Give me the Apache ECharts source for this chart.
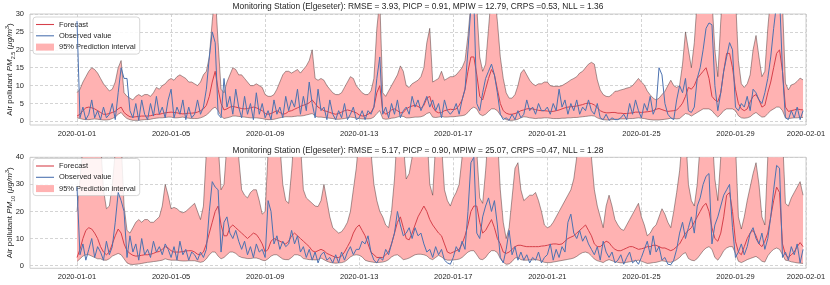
<!DOCTYPE html>
<html><head><meta charset="utf-8">
<script src="https://cdn.jsdelivr.net/npm/echarts@6/dist/echarts.min.js"></script>
<style>html,body{margin:0;padding:0;background:#fff}#c{width:830px;height:285px}</style>
</head><body><div id="c"></div>
<script>
// ---- axis ticks / labels ----
const xTickHours = [0,96,192,288,384,480,576,672,744];
const xTickLabels = ['2020-01-01','2020-01-05','2020-01-09','2020-01-13','2020-01-17','2020-01-21','2020-01-25','2020-01-29','2020-02-01'];
const stepHours = 3; // one value every 3 hours, starting 2020-01-01 00:00
const pm25Ticks = [0,5,10,15,20,25,30];
const pm10Ticks = [0,10,20,30,40];
const titles = [
 'Monitoring Station (Elgeseter): RMSE = 3.93, PICP = 0.91, MPIW = 12.79, CRPS =0.53, NLL = 1.36',
 'Monitoring Station (Elgeseter): RMSE = 5.17, PICP = 0.90, MPIW = 25.07, CRPS =0.47, NLL = 1.28'
];

// ---- PM2.5 (top panel) ----
const pm25Upper = [
 8,9,11,12.5,14,15,14.5,13.5,
 12,10.5,9.5,8.5,9,11,15,17,
 8,7,6.5,6,7,7.5,7,7.5,
 7.5,7,8,9.5,9,10,10.5,11.5,
 12,11.5,12.5,13,12.5,12,11,11,
 10.5,10,11,13,14,18,28,36,
 22,9,8,11,13,15,14.5,13,
 13,12,11,10,10,10.5,10,9.5,
 7.5,7,7,7.5,9,11,13,14,
 14,13.5,14,14.5,13.5,14.5,15.5,17,
 20,12,11.5,12,11.5,10,9,8,
 7.5,7.5,8,9.5,11,12.5,12,10,
 9,8,7.5,7.5,8.5,12,26,34,
 8,7,8.5,10,11.5,13,15.5,14,
 10,9.5,10.5,11,11.5,12.5,15,22,
 26,11,11.5,12,14,11.5,12,12.5,
 12.5,13,14,15,17,24,33,38,
 32,18,14,16,26,36,36,28,
 18,12,8,6.5,6.5,7.5,10,13.5,
 14.5,13,11.5,10.5,10,10.5,10.5,11,
 11,10,9.8,9.8,9.8,10,10.5,11,
 11.6,12,12.5,13.5,14,15,16,16.5,
 16,11.6,8.8,7.5,7,6.9,7.5,8.4,
 8.5,8.8,9,9.3,9.5,10,11,12,
 11,10.2,8.5,7.4,6.5,6,6.5,7.5,
 8.4,10,11.5,10,9.5,10,16,25,
 20,15,22,34,40,40,40,40,
 34,20,12.5,28,40,40,40,40,
 35,17,10.5,9.5,10.5,13,20,24,
 18,12.5,14,26,35,40,40,40,
 33,10.7,8.8,10.2,10.5,11.2,12.1,11.6
];
const pm25Lower = [
 1,0.8,0.6,0.5,0.5,0.6,0.7,0.6,
 0.5,0.4,0.4,0.5,0.8,1.2,2,2.5,
 1.5,0.8,0.5,0.3,0.3,0.3,0.4,0.5,
 0.5,0.6,0.8,0.9,1,1,1.1,1.2,
 1.2,1,1,1.1,1.2,1,0.9,0.8,
 0.8,0.8,1,1.3,1.8,2.5,3.5,4,
 3,1.5,0.8,1,1.2,1.5,1.5,1.4,
 1.3,1.2,1.1,1,1,1,0.9,0.8,
 0.6,0.5,0.5,0.6,0.8,1,1.2,1.3,
 1.3,1.3,1.4,1.5,1.5,1.6,1.8,2,
 2.2,1.5,1.2,1.2,1.1,1,0.9,0.8,
 0.6,0.6,0.7,0.8,1,1.2,1.1,0.9,
 0.8,0.7,0.7,0.7,0.8,1.2,2.2,3,
 0.8,0.6,0.7,0.9,1,1.2,1.5,1.4,
 1,1,1.1,1.2,1.2,1.3,1.6,2.2,
 2.5,1.2,1.1,1.2,1.4,1.2,1.2,1.3,
 1.3,1.4,1.5,1.6,1.8,2.5,3.5,4,
 3.5,2,1.6,2,2.8,3.5,3.5,3,
 1.8,1,0.5,0.3,0.3,0.4,0.6,1,
 1.3,1.2,1,0.9,0.8,0.9,0.9,1,
 1,0.9,0.8,0.8,0.8,0.9,0.9,1,
 1,1.1,1.1,1.2,1.3,1.4,1.5,1.6,
 1.5,1,0.7,0.5,0.4,0.4,0.5,0.6,
 0.6,0.7,0.7,0.7,0.8,0.8,0.9,1,
 0.9,0.8,0.6,0.5,0.4,0.4,0.4,0.5,
 0.6,0.7,0.9,0.8,0.7,0.8,1.5,2.2,
 2,1.5,2,2.5,3,3.5,3.5,3.5,
 3,2,1.2,2,3,3.5,3.5,3.5,
 3,1.6,1,0.9,1,1.3,2,2.5,
 1.8,1.2,1.3,2.2,3,3.5,4,4,
 3,1,0.8,0.9,1,1,1.1,1.1
];
const pm25Forecast = [
 1.5,2,3,3.8,4,3.8,3.5,3,
 2.5,2,2,2.2,2.5,2.8,3.5,4,
 2.5,1.8,1.3,1.2,1.3,1.4,1.5,1.5,
 1.5,1.6,1.8,2,2,2.2,2.4,2.5,
 2.6,2.5,2.4,2.2,2.1,2.2,2.3,2.3,
 2.4,2.6,3,3.5,4.5,7,11,14,
 9,5,3.2,3.5,4,4.2,4,3.8,
 3.6,3.5,3.6,3.8,4,3.8,3.4,3,
 2.2,2,2.2,2.6,3,2.5,2,2.2,
 2.8,3,3.4,3.8,4.2,4.5,4.8,5.2,
 6,5,4,3.5,3,2.8,2.5,2.2,
 2,2.2,2.6,3,3.2,3,2.7,2.4,
 1.8,1.5,1.6,2,2.5,4,8,10,
 3,2,2.5,3.2,3.5,3,2.4,2.5,
 3.5,4,4.3,4.5,4.2,3.6,4.5,6.5,
 7,4,2.8,2.4,2.5,3,3.2,3.4,
 3.3,3.5,4.5,6,9,14,18,18,
 13,7,6,9,12,14.5,13,9,
 5,3,2.3,2,2,2.2,2.5,3,
 3.2,3.5,3.6,3.5,3.3,3.1,3,3,
 2.9,2.8,2.8,3,3.2,3.5,3.8,4,
 4.1,4.2,4.3,4.5,4.7,5,5.1,5,
 4.6,3.8,3,2.6,2.4,2.4,2.5,2.5,
 2.3,2.3,2.2,2.2,2.3,2.4,2.6,2.6,
 2.5,2.6,2.7,2.8,3,3.4,3.6,3.3,
 3,2.8,2.9,3,3.2,4,5.1,7,
 9.5,9,10,12,13,14,15,12,
 7,6,5.5,8,14,19,19,15,
 9,5,3.5,3,3.5,5.5,7,7.5,
 6,4,4.5,8,11,15,19,20,
 14,4,2.8,3,3.2,3.5,3.3,3.2
];
const pm25Observed = [
 28,1,4,0.5,2,6,1,3,
 0.5,4,1,2,5,0.5,8,15,
 12,12,3,1,5,0.3,6,2,
 0.5,5,1.5,7,2,4,1,6,
 9,1,4,2,6,0.5,4,1,
 2,6,2,4,9,18,25,22,
 2,1,12,4,7,2,9,4,
 1,7,2,5,0.5,8,2,5,
 1,3,0.5,6,2,4,1,7,
 3,6,4,9,2,7,3,11,
 5,1,9,3,4,0.5,6,2,
 0.5,3,1,5,0.5,2,4,0.5,
 1,3,0.5,3,2,4,12,18,
 2,4,1,5,2,6,1,3,
 4,2,7,4,6,3,5,7,
 4,6,3,5,1,6,3,2,
 3,5,2,6,9,20,32,34,
 5,3,8,12,14,16,13,8,
 2,0.5,1,0.3,2,0.5,3,1,
 2,6,3,4,2,5,3,3,
 4,2,5,3,9,4,6,2,
 5,3,6,2,4,3,6,3,
 2,5,1,0.5,2,0.3,1,0.5,
 0.5,1,2,0.5,5,2,6,3,
 1,5,3,7,2,4,15,13,
 5,2,1,0.5,6,10,8,12,
 3,2.5,4,12,15,20,26,27.5,
 27,10,3,8,14,18,22,20,
 4,3,5,4,7,3,9,8,
 6,5,8,12,18,26,33,35,
 14,1,0.5,3,1,4,0.5,3
];

// ---- PM10 (bottom panel) ----
const pm10Upper = [
 20,32,44,50,50,50,50,50,
 46,28,21,22,30,42,50,46,
 22,13,12,14,16,17,16,17,
 17,16,16,17,18,22,30,26,
 21,21.5,21,20,19.5,20,21,22,
 23,20,17,22,42,50,50,50,
 45,28,30,45,50,50,50,40,
 28,26,25,27,28,28,24,19,
 20,42,50,50,50,45,30,24,
 23,35,50,50,45,28,25,24,
 23,22,21.8,24,30,24,18,14,
 13,12,12.5,14,16,20,28,36,
 48,50,50,50,42,30,24,20,
 18,15,14,20,32,50,50,45,
 32,34,40,50,50,50,50,50,
 30,26,45,50,45,28,24,22,
 25,27,30,40,50,50,50,50,
 42,25,23,35,50,50,50,48,
 28,16,10,14,25,36,38,28,
 24,25,26,26,27,24,20,15,
 14,14.5,16,18,20,22,24,26,
 28,32,40,50,50,50,50,40,
 28,22,18,14,22,26,22,17,
 15,13.5,13,15,17,19,21,23,
 18,15,11,12,14,15,18,21,
 19,16,14,20,27,35,48,50,
 30,24,22,30,45,50,50,50,
 50,32,24,40,50,50,50,50,
 45,18,13.5,18,24,29,34,38,
 30,18,15,40,50,50,50,50,
 48,23,22,25,27,29,31,26
];
const pm10Lower = [
 1.5,2.5,3.5,4,4,3.5,3,2.5,
 2.5,2,2,2.5,3.5,4,4.5,4,
 2.5,1,0.5,0.4,0.5,0.6,0.8,1,
 1.2,1.3,1.5,1.6,1.8,2,2.5,2.2,
 2,2,2,1.8,1.7,1.7,1.8,1.8,
 1.8,1.5,1.2,1.5,2.5,4,5,5,
 3.5,2.5,3,4,5,5,4.5,3.5,
 3,2.8,2.6,2.6,2.8,2.8,2.5,2,
 1.8,2.5,3.5,4,4,3.2,2.4,2.2,
 2.2,3,4,4,3.6,2.6,2.4,2.2,
 2.2,2.1,2.2,2.8,2.2,1.6,1.2,1,
 0.9,1,1.1,1.4,2.2,3.2,3.8,4,
 3.8,3.2,2,1.6,1.4,1.2,1.1,1.2,
 1.3,1.6,2.2,3.2,3.8,4,3.2,2.2,
 2.4,2.8,3.4,4,4.2,4.2,4,3.6,
 2.6,2.2,3,3.8,3.2,2.4,2,2,
 2.1,2.2,2.4,3,4,5,5.5,5.5,
 4,2.4,2.2,3,4.5,5.5,5.5,4.8,
 2.6,1.2,0.5,0.6,1.5,2.8,3,2.2,
 2,2,2.1,2.1,2.2,2,1.6,1.2,
 1.1,1.1,1.3,1.5,1.7,1.9,2.1,2.3,
 2.5,2.8,3.4,4.2,4.8,5,4.6,3.6,
 2.4,1.8,1.5,1.1,1.8,2.2,1.8,1.4,
 1.2,1,1,1.2,1.4,1.6,1.8,2,
 1.6,1.2,0.8,0.9,1.1,1.2,1.5,1.8,
 1.6,1.3,1.2,1.6,2.2,3,4.2,4.8,
 2.6,2,1.8,2.6,4,5.5,6.5,7,
 6,3,2,3.5,5.5,6.5,7,7,
 4.5,1.6,1.1,1.6,2.2,2.6,3,3.4,
 2.6,1.6,1.3,3.6,5,6,6.5,6,
 4,2,1.8,1.4,1.2,1,0.9,0.8
];
const pm10Forecast = [
 3,6,10,13,14,13.5,12,10,
 7,5,4,5,8,11,13.5,12,
 8,5.5,4.5,3.8,3.5,3.6,3.8,4,
 4,4.2,4.5,5,5.2,6,7,6.5,
 5.5,5,5,5,5.2,5.4,5.5,5.5,
 5,4.2,4,5,8,12,16,20,
 22,15,11,11,14,15,14,13,
 12,11,10,11,12,11.5,10,8,
 5,6,9,10,9.5,9,8.5,8,
 9,11,12,11,10,9,8,7,
 5.5,5,5.5,6,5.5,4.5,4,3.5,
 3,3,3.5,5,7,9,12,14,
 15,13,11,8,5,4,3,3,
 3,4,5,8,12,16,18,14,
 10,9.5,12,15,18,20,22,20,
 17,15,13.5,12,11,8,5,4.5,
 5,5.5,6,8,11,15,20,22,
 22,16,12,13,15,17,14,10,
 8,5,4.5,5,6,7,7.5,7.5,
 7.2,7,7,7,7,7,7.2,7.3,
 7.5,7.8,8,8,7.8,8,9,10,
 10.5,11,12,13,14,15,13,11,
 8,7,7,8,9,8.5,7,6,
 5.5,5.5,6,6.5,7,7,6.5,6,
 6.2,6.5,7,7,7.5,7.5,7,6.5,
 6.5,6,5.5,6,7,8,10,12,
 13,14,16,18,20,22,23,20,
 14,10,9,12,18,26,27,20,
 9,5,4,7,10,12,13,11,
 8,7,9,12,18,24,29,27,
 8,4,3,4,5,7,8.5,7
];
const pm10Observed = [
 29,4,8,2,6,10,3,7,
 5,2,9,4,7,16,27,24,
 20,3,11,5,8,2,10,4,
 6,3,9,5,7,4,8,6,
 3,7,2,9,4,6,2,5,
 4,2,5,3,6,20,31,29,
 28,5,16,18,12,10,13,9,
 6,9,4,7,3,8,5,6,
 3,24,20,8,11,6,9,7,
 8,13,8,11,5,7,3,6,
 2,5,1,4,5,2,3,1,
 4,1,5,2,5,7,4,6,
 6,9,8,11,5,2,1,3,
 2,6,4,8,12,20,15,11,
 12,14,10,14,11,12,8,5,
 6,3,7,4,6,2,1,0.5,
 3,7,5,9,6,20,38,40,
 12,10,18,22,25,20,24,15,
 3,1,6,13,4,7,2,5,
 2,4,1,3,2,5,1,3,
 4,8,2,6,3,7,5,16,
 19,12,10,13,9,11,8,6,
 4,7,2,9,5,3,5,1,
 2,4,0.5,3,5,1,2,0.5,
 3,6,9,4,11,5,7,2,
 3,0.5,0.3,2,6,12,16,10,
 14,18,12,22,25,30,33,34,
 8,15,18,22,26,28,30,14,
 3,5,8,4,7,12,14,10,
 8,12,6,10,18,28,37,36,
 3,5,2,7,4,8,1,6
];

// ---- styling ----
const FONT = 'Liberation Sans, Arial, sans-serif';
const TXT = '#262626';
const RED = '#d6404a';
const BLUE = '#4c72b0';
const FILL = '#ffb2b2';
const EDGE = 'rgba(70,50,50,0.8)';
const GRIDC = '#c9c9c9';
const LINEICON = 'path://M0,0H20V1.2H0Z';

const toXY = arr => arr.map((v, i) => [i * stepHours, v]);

function panelSeries(idx, lower, upper, fc, obs) {
  return [
    {type:'custom', name:'95% Prediction interval', xAxisIndex:idx, yAxisIndex:idx, clip:true, silent:true,
     itemStyle:{color:FILL}, z:1,
     data:[[0, 0]], encode:{x:0, y:1},
     renderItem: (params, api) => {
       const pts = [];
       for (let i = 0; i < upper.length; i++) pts.push(api.coord([i * stepHours, upper[i]]));
       for (let i = lower.length - 1; i >= 0; i--) pts.push(api.coord([i * stepHours, lower[i]]));
       return {type:'polygon', shape:{points:pts}, style:{fill:FILL, stroke:null}};
     }},
    {type:'line', name:'upper'+idx, xAxisIndex:idx, yAxisIndex:idx, data:toXY(upper),
     symbol:'none', lineStyle:{color:EDGE, width:0.6}, itemStyle:{color:EDGE}, z:2, silent:true},
    {type:'line', name:'lower'+idx, xAxisIndex:idx, yAxisIndex:idx, data:toXY(lower),
     symbol:'none', lineStyle:{color:EDGE, width:0.6}, itemStyle:{color:EDGE}, z:2, silent:true},
    {type:'line', name:'Forecast', xAxisIndex:idx, yAxisIndex:idx, data:toXY(fc),
     symbol:'none', lineStyle:{color:RED, width:1}, itemStyle:{color:RED}, z:3},
    {type:'line', name:'Observed value', xAxisIndex:idx, yAxisIndex:idx, data:toXY(obs),
     symbol:'none', lineStyle:{color:BLUE, width:1}, itemStyle:{color:BLUE}, z:4}
  ];
}

function xAxis(idx) {
  return {type:'value', gridIndex:idx, min:-48, max:744,
    axisLine:{show:false}, axisTick:{show:false, customValues:xTickHours},
    axisLabel:{customValues:xTickHours, margin:5, fontSize:7.5, fontFamily:FONT, color:TXT,
      formatter: v => xTickLabels[xTickHours.indexOf(v)] || ''},
    splitLine:{show:true, lineStyle:{color:GRIDC, width:0.8, type:[3,2]}}};
}
function yAxis(idx, ticks, max, sub) {
  return {type:'value', gridIndex:idx, min:-1, max:max,
    axisLine:{show:false}, axisTick:{show:false, customValues:ticks},
    axisLabel:{customValues:ticks, margin:6, fontSize:7.5, fontFamily:FONT, color:TXT},
    splitLine:{show:true, lineStyle:{color:GRIDC, width:0.8, type:[3,2]}},
    name:'{n|Air pollutant }{i|PM}{s|' + sub + '}{n| (}{i|μg/m}{p|3}{n|)}',
    nameLocation:'middle', nameGap:14, nameMoveOverlap:false,
    nameTextStyle:{fontFamily:FONT, color:TXT, fontSize:8,
      rich:{n:{fontSize:8, lineHeight:12, fontFamily:FONT, color:TXT},
            i:{fontSize:8, lineHeight:12, fontStyle:'italic', fontFamily:FONT, color:TXT},
            s:{fontSize:5.5, lineHeight:12, verticalAlign:'bottom', fontFamily:FONT, color:TXT},
            p:{fontSize:5.5, lineHeight:12, verticalAlign:'top', fontFamily:FONT, color:TXT}}}};
}
function legend(top) {
  return {left:33, top:top, orient:'vertical', selectedMode:false,
    itemWidth:18, itemHeight:7, itemGap:3.3, padding:[3.5,4,3,3],
    backgroundColor:'rgba(255,255,255,0.85)', borderColor:'#cccccc', borderWidth:0.8, borderRadius:3,
    textStyle:{fontSize:7.5, fontFamily:FONT, color:TXT},
    data:[{name:'Forecast', icon:LINEICON, itemStyle:{color:RED}},
          {name:'Observed value', icon:LINEICON, itemStyle:{color:BLUE}},
          {name:'95% Prediction interval', icon:'rect', itemStyle:{color:FILL}}]};
}

const chart = echarts.init(document.getElementById('c'), null, {renderer:'canvas'});
chart.setOption({
  animation:false,
  backgroundColor:'#ffffff',
  title:[
    {text:titles[0], left:418, top:2.8, textAlign:'center', padding:0,
     textStyle:{fontSize:8.4, fontWeight:'normal', fontFamily:FONT, color:TXT}},
    {text:titles[1], left:418, top:146.5, textAlign:'center', padding:0,
     textStyle:{fontSize:8.4, fontWeight:'normal', fontFamily:FONT, color:TXT}}
  ],
  grid:[
    {left:30, top:14, width:776, height:111, show:true, borderColor:'#cccccc', borderWidth:1,
     backgroundColor:'transparent', outerBoundsMode:'none', containLabel:false},
    {left:30, top:157.3, width:776, height:111, show:true, borderColor:'#cccccc', borderWidth:1,
     backgroundColor:'transparent', outerBoundsMode:'none', containLabel:false}
  ],
  legend:[legend(17), legend(158.5)],
  xAxis:[xAxis(0), xAxis(1)],
  yAxis:[yAxis(0, pm25Ticks, 30, '2.5'), yAxis(1, pm10Ticks, 40, '10')],
  series:[
    ...panelSeries(0, pm25Lower, pm25Upper, pm25Forecast, pm25Observed),
    ...panelSeries(1, pm10Lower, pm10Upper, pm10Forecast, pm10Observed)
  ]
});
</script>
</body></html>
